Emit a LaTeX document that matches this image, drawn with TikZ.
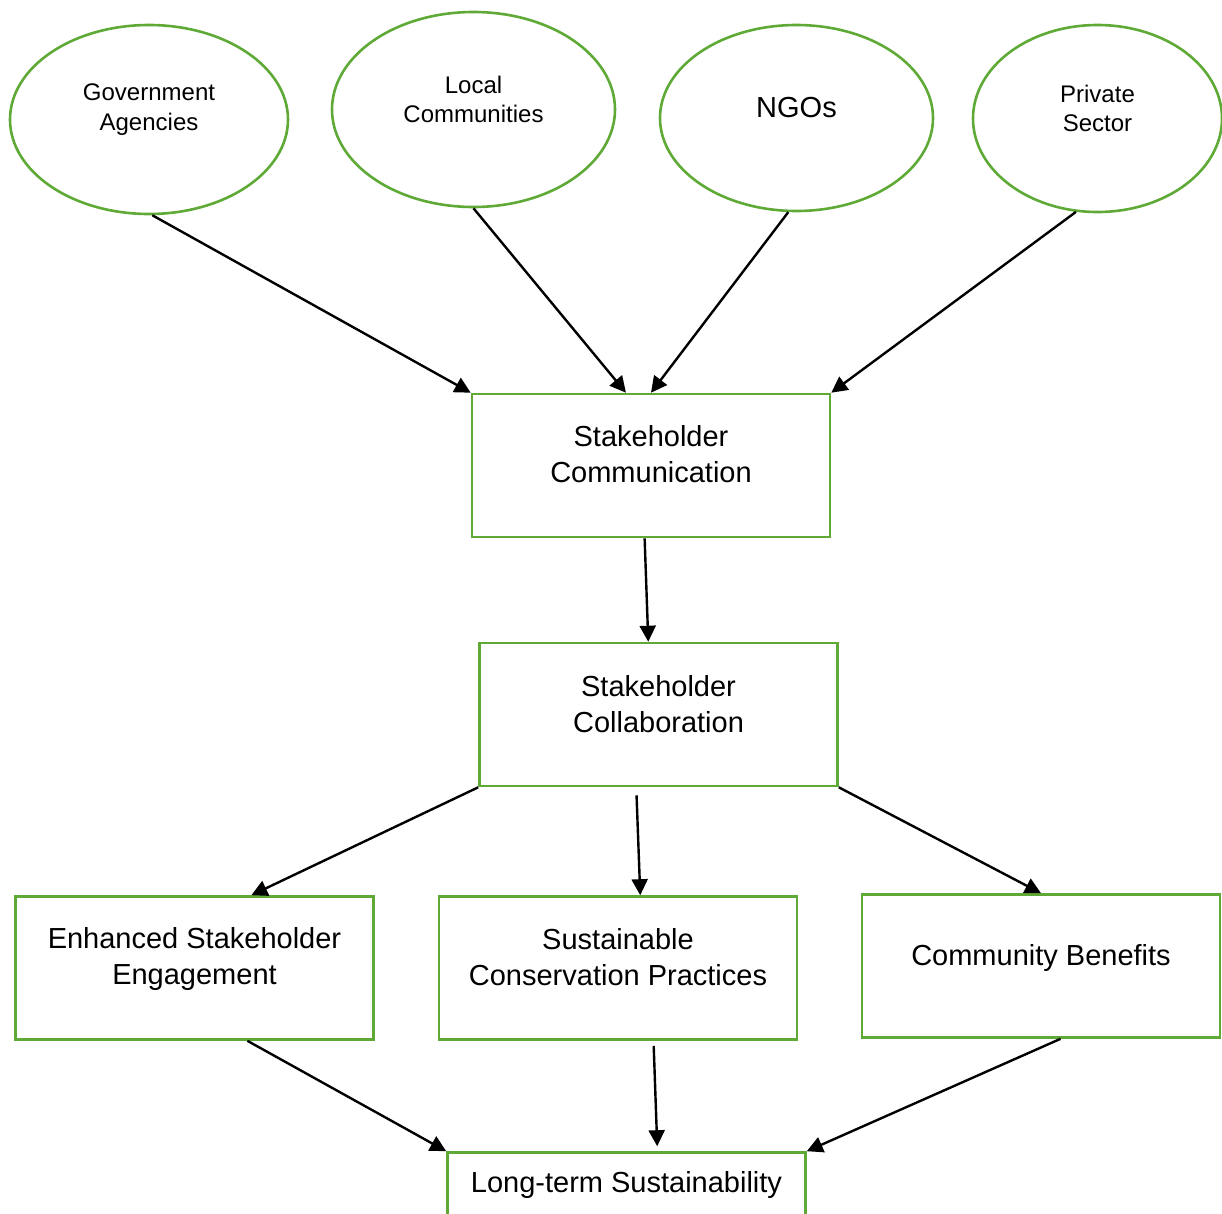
\documentclass[tikz,border=0pt]{standalone}
\usepackage{fontspec}
\setmainfont{Liberation Sans}
\usetikzlibrary{shapes.geometric,arrows.meta}
\definecolor{leafgreen}{RGB}{95,170,55}

\begin{document}
\begin{tikzpicture}[x=1pt,y=-1pt,thick]
\tikzstyle{oval}=[draw=leafgreen,line width=2.6pt,ellipse,inner sep=0pt]
\tikzstyle{block}=[draw=leafgreen,line width=2.6pt,rectangle,inner sep=0pt,
                   minimum width=358,minimum height=143]
\tikzstyle{caption}=[align=center,text=black,font=\fontsize{29}{36}\selectfont]
\tikzstyle{link}=[line width=2.4pt,-{Triangle[length=16pt,width=16pt]}]
\clip (0,0) rectangle (1222,1213);
  % stakeholder groups
  \foreach \place/\name/\w/\h/\fs/\txt in {{(149,119.5)/gov/278/189/24/Government\\Agencies},
                                          {(473.5,109.5)/local/283/195/24/Local\\Communities},
                                          {(796.5,118)/ngo/273/186/29/NGOs},
                                          {(1097.5,118.5)/priv/249/187/24/Private\\Sector}}
    \node[oval,minimum width=\w,minimum height=\h,
          label={[caption,yshift=10pt,font=\fontsize{\fs}{29.5}\selectfont]center:\txt}] (\name) at \place {};
  % process boxes
  \foreach \place/\name/\up/\txt in {{(651,465.5)/comm/11/Stakeholder\\Communication},
                                     {(658.5,714.5)/collab/10.5/Stakeholder\\Collaboration},
                                     {(194.5,968)/enh/9.5/Enhanced Stakeholder\\Engagement},
                                     {(618,968)/sust/11/Sustainable\\Conservation Practices},
                                     {(1041,966)/cben/8.5/Community Benefits},
                                     {(626.5,1224)/long/39.5/Long-term Sustainability}}
    \node[block,label={[caption,yshift=\up pt]center:\txt}] (\name) at \place {};
  \foreach \source/\dest in {gov.272/comm.north west,
                             local.south/comm.109,
                             ngo.265/comm.north,
                             priv.257/comm.north east,
                             comm.265/collab.98,
                             collab.south west/enh.52,
                             collab.south east/cben.north,
                             enh.306/long.north west,
                             cben.285/long.north east}
    \draw[link] (\source) -- (\dest);
  \draw[link,shorten <=8pt] (collab.253) -- (sust.73);
  \draw[link,shorten <=5pt,shorten >=5pt] (sust.296) -- (long.67);
\end{tikzpicture}
\end{document}
